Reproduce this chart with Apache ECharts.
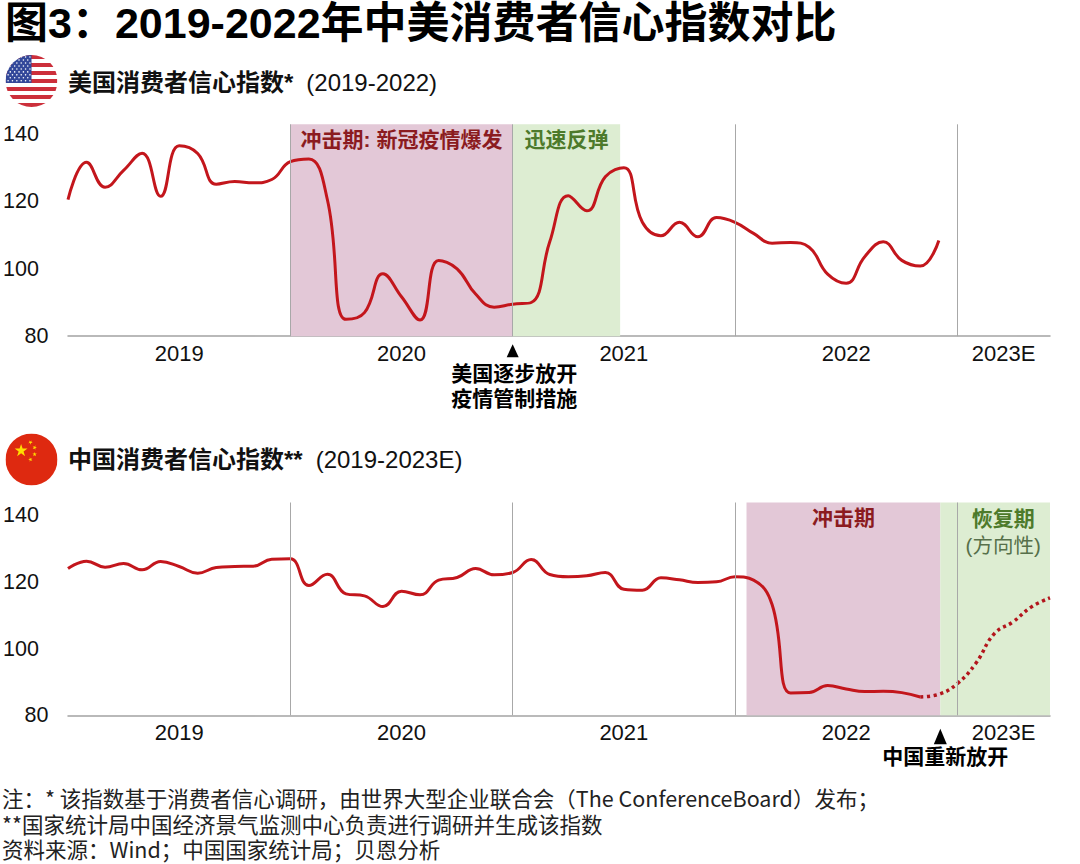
<!DOCTYPE html>
<html>
<head>
<meta charset="utf-8">
<script src="https://cdn.jsdelivr.net/npm/echarts@6/dist/echarts.min.js"></script>
<style>
  html, body { margin: 0; padding: 0; background: #fff; }
  #main { width: 1080px; height: 864px; }
</style>
</head>
<body>
<div id="main"></div>
<script>
// ---------------- data ----------------
const years = ['2019', '2020', '2021', '2022', '2023E'];
const yTicks = [80, 100, 120, 140];
// month index 0 = Jan 2019
const usValues = [
  120.5, 131.6, 124.2, 129.2, 134.3, 121.5, 136.5, 134.2, 125.1, 125.9, 125.5, 126.5,
  131.8, 132.6, 120.5, 85.0, 87.0, 98.5, 91.7, 84.8, 102.5, 100.0, 92.5, 88.6,
  89.5, 90.0, 108.0, 121.7, 117.2, 127.3, 130.0, 113.8, 109.8, 113.8, 109.5, 115.2,
  113.8, 110.5, 107.6, 107.8, 106.4, 98.4, 95.7, 103.6, 108.0, 102.5, 100.8, 108.4
];
const cnValues = [
  124.0, 126.2, 124.4, 125.5, 123.6, 126.1, 124.6, 122.6, 124.3, 124.6, 124.7, 126.8,
  126.9, 118.9, 122.3, 116.4, 115.8, 112.6, 117.2, 116.1, 120.5, 121.3, 124.0, 122.1,
  122.8, 126.7, 122.2, 121.5, 121.8, 122.8, 117.8, 117.5, 121.2, 120.6, 119.8, 120.0,
  121.5, 120.5, 113.2, 86.7, 86.8, 88.9, 87.9, 87.1, 87.2, 86.8, 85.5
];
const cnForecastStart = 46;
const cnForecast = [85.5, 86.3, 89.5, 95.6, 104.5, 108.0, 112.5, 115.2];
const yearBounds = [12, 24, 36, 48];
const usPhases = [
  { name: '冲击期: 新冠疫情爆发', from: 12, to: 24, kind: 'shock' },
  { name: '迅速反弹', from: 24, to: 29.8, kind: 'rebound' }
];
const cnPhases = [
  { name: '冲击期', from: 36.62, to: 47.08, kind: 'shock' },
  { name: '恢复期', sub: '(方向性)', from: 47.08, to: 53, kind: 'recovery' }
];
const usReopenMonth = 24;
const cnReopenMonth = 47.08;
const xMax = 53;

const TITLE = '图3：2019-2022年中美消费者信心指数对比';
const usSubtitleBold = '美国消费者信心指数*';
const usSubtitleReg = '(2019-2022)';
const cnSubtitleBold = '中国消费者信心指数**';
const cnSubtitleReg = '(2019-2023E)';
const usNote = '美国逐步放开\n疫情管制措施';
const cnNote = '中国重新放开';
const footnotes = [
  '注：* 该指数基于消费者信心调研，由世界大型企业联合会（The ConferenceBoard）发布；',
  '**国家统计局中国经济景气监测中心负责进行调研并生成该指数',
  '资料来源：Wind；中国国家统计局；贝恩分析'
];

// ---------------- styles ----------------
const RED = '#c3161c';
const PINK = '#e3c8d7';
const GREEN = '#ddedd2';
const LABEL_RED = '#8b1b20';
const LABEL_GREEN = '#4d7a2b';
const SUB_GREEN = '#56704a';
const FONT = '"Liberation Sans", Arial, "Noto Sans CJK SC", sans-serif';

const usData = usValues.map((v, i) => [i, v]);
const cnData = cnValues.map((v, i) => [i, v]);
const cnFcData = cnForecast.map((v, i) => [cnForecastStart + i, v]);

const labelPos = years.map((y, k) => (12 * k + Math.min(12 * k + 12, xMax)) / 2);

function mkX(idx) {
  return {
    type: 'value', gridIndex: idx, min: 0, max: xMax, interval: 0.5,
    axisLine: { show: true, lineStyle: { color: '#a3a3a3', width: 1.5 } },
    axisTick: { show: false },
    splitLine: { show: false },
    axisLabel: {
      margin: 6, fontSize: 22, fontFamily: FONT, color: '#111',
      formatter: v => { const k = labelPos.indexOf(v); return k >= 0 ? years[k] : ''; }
    }
  };
}
function mkY(idx, max) {
  return {
    type: 'value', gridIndex: idx, min: 80, max: max, interval: 20,
    axisLine: { show: false }, axisTick: { show: false }, splitLine: { show: false },
    axisLabel: {
      align: 'left', margin: 65,
      formatter: v => {
        if (v === yTicks[0]) return '{p|' + v + '}';
        return yTicks.indexOf(v) >= 0 ? '{n|' + v + '}' : '';
      },
      rich: {
        n: { fontSize: 21.5, fontFamily: FONT, color: '#111' },
        p: { fontSize: 21.5, fontFamily: FONT, color: '#111', padding: [0, 0, 0, 21.6] }
      }
    }
  };
}

function phaseArea(p) {
  const isShock = p.kind === 'shock';
  const item = {
    xAxis: p.from, name: p.name,
    itemStyle: { color: isShock ? PINK : GREEN },
    label: {
      show: true, position: 'insideTop', distance: 4.5,
      fontSize: 21, fontWeight: 'bold', fontFamily: FONT,
      color: isShock ? LABEL_RED : LABEL_GREEN
    }
  };
  if (p.sub) {
    item.label = {
      show: true, position: 'insideTop', distance: 2.5, offset: [8, 0],
      formatter: '{a|' + p.name + '}\n{b|' + p.sub + '}',
      rich: {
        a: { fontSize: 21, fontWeight: 'bold', fontFamily: FONT, color: LABEL_GREEN, lineHeight: 26.7 },
        b: { fontSize: 20.5, fontFamily: FONT, color: SUB_GREEN, lineHeight: 26.7 }
      }
    };
  }
  return [item, { xAxis: p.to }];
}

function yearLines(idx) {
  return {
    type: 'line', xAxisIndex: idx, yAxisIndex: idx, data: [], z: 2, silent: true,
    markLine: {
      silent: true, symbol: ['none', 'none'], label: { show: false },
      lineStyle: { color: '#a8a8a8', width: 1, type: 'solid' },
      emphasis: { disabled: true },
      data: yearBounds.map(v => ({ xAxis: v }))
    }
  };
}
function shading(idx, phases) {
  return {
    type: 'line', xAxisIndex: idx, yAxisIndex: idx, data: [], z: 1, silent: true,
    markArea: { silent: true, data: phases.map(phaseArea) }
  };
}

// flags as inline svg images
function starPts(cx, cy, R, rot) {
  const pts = [];
  for (let k = 0; k < 10; k++) {
    const r = k % 2 === 0 ? R : R * 0.382;
    const a = -Math.PI / 2 + rot + k * Math.PI / 5;
    pts.push((cx + r * Math.cos(a)).toFixed(2) + ',' + (cy + r * Math.sin(a)).toFixed(2));
  }
  return pts.join(' ');
}
function usFlag() {
  let s = '<svg xmlns="http://www.w3.org/2000/svg" viewBox="0 0 100 100"><defs><clipPath id="c"><circle cx="50" cy="50" r="50"/></clipPath></defs><g clip-path="url(#c)"><rect width="100" height="100" fill="#fff"/>';
  for (let k = 0; k < 13; k += 2) s += '<rect x="0" y="' + (k * 100 / 13).toFixed(2) + '" width="100" height="' + (100 / 13).toFixed(2) + '" fill="#cc2f3b"/>';
  s += '<rect x="0" y="0" width="50" height="53.8" fill="#33489a"/>';
  for (let r = 0; r < 9; r++) {
    const n = r % 2 === 0 ? 6 : 5;
    for (let c = 0; c < n; c++) {
      const x = (r % 2 === 0 ? 5 : 9.2) + c * 8.4;
      s += '<circle cx="' + x.toFixed(1) + '" cy="' + (4 + r * 5.7).toFixed(1) + '" r="1.5" fill="#fff"/>';
    }
  }
  s += '</g></svg>';
  return 'data:image/svg+xml;charset=utf-8,' + encodeURIComponent(s);
}
function cnFlag() {
  let s = '<svg xmlns="http://www.w3.org/2000/svg" viewBox="0 0 100 100"><circle cx="50" cy="50" r="50" fill="#de2910"/>';
  s += '<polygon fill="#ffde00" points="' + starPts(30, 33, 13, 0) + '"/>';
  [[48, 17, 0.6], [56, 27, 0.3], [56, 40, 0], [48, 50, -0.3]].forEach(p => {
    s += '<polygon fill="#ffde00" points="' + starPts(p[0], p[1], 4.5, p[2]) + '"/>';
  });
  s += '</svg>';
  return 'data:image/svg+xml;charset=utf-8,' + encodeURIComponent(s);
}

function subtitle(y, bold, reg) {
  return { type: 'text', x: 68, y: y, style: {
    text: '{b|' + bold + '}{r|' + reg + '}',
    verticalAlign: 'middle', textVerticalAlign: 'middle',
    rich: {
      b: { fontSize: 24, fontWeight: 'bold', fontFamily: FONT, fill: '#111', color: '#111' },
      r: { fontSize: 24, fontFamily: FONT, fill: '#111', color: '#111', padding: [0, 0, 0, 13] }
    } } };
}

function footnote(i, yMid) {
  return { type: 'text', x: 2, y: yMid, style: { text: footnotes[i], font: '21.5px "Noto Sans CJK SC", sans-serif', fill: '#222', verticalAlign: 'middle', textVerticalAlign: 'middle' } };
}

const staticGraphics = [
  { type: 'text', x: 5, y: 22.5, style: { text: TITLE, font: 'bold 43px "Liberation Sans", Arial, "Noto Sans CJK SC"', fill: '#000', verticalAlign: 'middle', textVerticalAlign: 'middle' } },
  { type: 'image', style: { image: usFlag(), x: 5.5, y: 55, width: 52, height: 52 } },
  subtitle(82, usSubtitleBold, usSubtitleReg),
  { type: 'image', style: { image: cnFlag(), x: 5.5, y: 433.5, width: 52, height: 52 } },
  subtitle(459.5, cnSubtitleBold, cnSubtitleReg),
  footnote(0, 797.5),
  footnote(1, 823),
  footnote(2, 848.2)
];

const option = {
  animation: false,
  backgroundColor: '#fff',
  grid: [
    { left: 66.7, top: 124.3, width: 983.3, height: 211.9, containLabel: false },
    { left: 66.7, top: 502.5, width: 983.3, height: 212.8, containLabel: false }
  ],
  xAxis: [mkX(0), mkX(1)],
  yAxis: [mkY(0, 142.88), mkY(1, 143.79)],
  series: [
    shading(0, usPhases),
    yearLines(0),
    { type: 'line', name: 'US', xAxisIndex: 0, yAxisIndex: 0, data: usData, smooth: 0.45, symbol: 'none', z: 3,
      lineStyle: { color: RED, width: 3 } },
    shading(1, cnPhases),
    yearLines(1),
    { type: 'line', name: 'CN', xAxisIndex: 1, yAxisIndex: 1, data: cnData, smooth: 0.45, symbol: 'none', z: 3,
      lineStyle: { color: RED, width: 3 } },
    { type: 'line', name: 'CN forecast', xAxisIndex: 1, yAxisIndex: 1, data: cnFcData, smooth: 0.45, symbol: 'none', z: 3,
      lineStyle: { color: '#b3151c', width: 3.5, type: [3.2, 3.5], cap: 'butt' } }
  ]
};

const chart = echarts.init(document.getElementById('main'), null, { renderer: 'svg', width: 1080, height: 864 });
chart.setOption(option);

const a = chart.convertToPixel({ xAxisIndex: 0, yAxisIndex: 0 }, [usReopenMonth, 80]);
const b = chart.convertToPixel({ xAxisIndex: 1, yAxisIndex: 1 }, [cnReopenMonth, 80]);
const dyn = [
  { type: 'polygon', shape: { points: [[a[0], a[1] + 8], [a[0] - 6, a[1] + 21], [a[0] + 6, a[1] + 21]] }, style: { fill: '#000' } },
  { type: 'text', x: a[0] + 1.5, y: a[1] + 25, style: { text: usNote, font: 'bold 21px "Liberation Sans", "Noto Sans CJK SC"', lineHeight: 25, fill: '#000', align: 'center', textAlign: 'center', verticalAlign: 'top', textVerticalAlign: 'top' } },
  { type: 'polygon', shape: { points: [[b[0], b[1] + 13.5], [b[0] - 6.5, b[1] + 29], [b[0] + 6.5, b[1] + 29]] }, style: { fill: '#000' } },
  { type: 'text', x: b[0] + 5, y: b[1] + 29, style: { text: cnNote, font: 'bold 21px "Liberation Sans", "Noto Sans CJK SC"', lineHeight: 25, fill: '#000', align: 'center', textAlign: 'center', verticalAlign: 'top', textVerticalAlign: 'top' } }
];
chart.setOption({ graphic: staticGraphics.concat(dyn) });
</script>
</body>
</html>
